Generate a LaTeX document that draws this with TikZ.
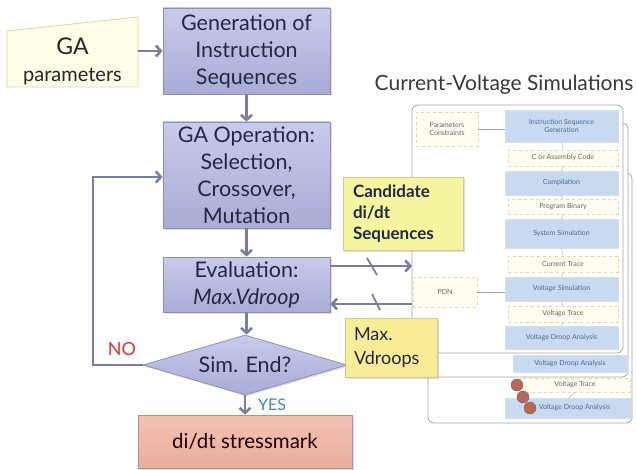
\documentclass[tikz,border=0pt]{standalone}
\usepackage{fontspec}
\setmainfont{Lato}
\usetikzlibrary{arrows.meta,shadows,shapes.geometric}
\definecolor{lavtop}{HTML}{C8CBEB}
\definecolor{lavbot}{HTML}{A8ACD6}
\definecolor{lavborder}{HTML}{8C90B2}
\definecolor{navy}{HTML}{232745}
\definecolor{salmontop}{HTML}{F3C2B4}
\definecolor{salmonbot}{HTML}{EBAD9C}
\definecolor{salmonborder}{HTML}{B89088}
\definecolor{arrowc}{HTML}{7A7E9C}
\definecolor{paramfill}{HTML}{FDFDE8}
\definecolor{paramborder}{HTML}{D9D9A6}
\definecolor{candfill}{HTML}{F5F59F}
\definecolor{maxfill}{HTML}{F8EC95}
\definecolor{yelborder}{HTML}{CFCB95}
\definecolor{noc}{HTML}{D9343A}
\definecolor{yesc}{HTML}{3C88B2}
\definecolor{panelborder}{HTML}{A6A6A6}
\definecolor{pblue}{HTML}{C7DAF0}
\definecolor{pbluetext}{HTML}{4B6896}
\definecolor{pyel}{HTML}{FFFDF0}
\definecolor{pyelborder}{HTML}{E6D7A3}
\definecolor{dotc}{HTML}{B46A5A}
\tikzset{
  lbox/.style={rectangle, draw=lavborder, line width=0.8pt, top color=lavtop, bottom color=lavbot,
    text=navy, font=\fontsize{21.5}{27}\selectfont, align=center, inner sep=0pt,
    drop shadow={opacity=0.25, shadow xshift=1.5pt, shadow yshift=-1.5pt}},
  flow/.style={draw=arrowc, line width=2.6pt, -{Straight Barb[length=5pt,width=11pt]}},
  note/.style={rectangle, draw=yelborder, line width=0.6pt, text=navy, align=left, inner sep=0pt,
    drop shadow={opacity=0.25, shadow xshift=1.5pt, shadow yshift=-1.5pt}},
  panel/.style={draw=panelborder, line width=0.8pt, fill=white, rounded corners=6pt},
  pbox/.style={rectangle, fill=pblue, draw=pblue!80!black!40, line width=0.3pt, text=pbluetext,
    font=\fontsize{7}{8}\selectfont, align=center, inner sep=0pt},
  ybox/.style={rectangle, fill=pyel, draw=pyelborder, dashed, line width=0.4pt, text=black!60,
    font=\fontsize{7}{8}\selectfont, align=center, inner sep=0pt},
  thin/.style={draw=black!35, line width=0.4pt},
  tick/.style={draw=arrowc, line width=1.8pt}
}
\begin{document}
\begin{tikzpicture}[x=1pt,y=-1pt]
\useasboundingbox (0,0) rectangle (636,470);

% ---- right: simulation panels ----
\node[font=\fontsize{21}{24}\selectfont, text=black!78] (title) at (504,85) {Current-Voltage Simulations};

\draw[panel] (428,173) rectangle (632,423);
\draw[panel] (420,123) rectangle (628,377);
\draw[panel] (412,105) rectangle (623,353);

\node[ybox, minimum width=62pt, minimum height=34pt] (params) at (447,129) {Parameters\\Constraints};
\node[pbox, minimum width=113pt, minimum height=32pt] (isg) at (561.5,126) {Instruction Sequence\\Generation};
\node[ybox, minimum width=110pt, minimum height=16pt] (cac) at (563,158) {C or Assembly Code};
\node[pbox, minimum width=113pt, minimum height=24pt] (comp) at (561.5,183) {Compilation};
\node[ybox, minimum width=110pt, minimum height=15pt] (pb) at (563,206.5) {Program Binary};
\node[pbox, minimum width=113pt, minimum height=29pt] (ss) at (561.5,233.5) {System Simulation};
\node[ybox, minimum width=110pt, minimum height=16pt] (ct) at (563,264) {Current Trace};
\node[ybox, minimum width=64pt, minimum height=30pt] (pdn) at (445,292) {PDN};
\node[pbox, minimum width=113pt, minimum height=24pt] (vs) at (561.5,289) {Voltage Simulation};
\node[ybox, minimum width=110pt, minimum height=16pt] (vt) at (563,314) {Voltage Trace};
\node[pbox, minimum width=113pt, minimum height=23pt] (vda) at (561.5,337.5) {Voltage Droop Analysis};
\node[pbox, minimum width=114pt, minimum height=17pt] (vdab) at (570,363.5) {Voltage Droop Analysis};
\node[ybox, minimum width=110pt, minimum height=14pt] (vtc) at (575,385) {Voltage Trace};
\node[pbox, minimum width=127pt, minimum height=20pt] (vdac) at (568.5,408) {\hspace*{12pt}Voltage Droop Analysis};

\draw[thin] (params.east) -- (isg.west |- params.east);
\draw[thin] (pdn.east) -- (vs.west |- pdn.east);
\foreach \a/\b in {isg/cac, cac/comp, comp/pb, pb/ss, ss/ct, ct/vs, vs/vt, vt/vda, vtc/vdac}
  \draw[thin] (\a.south) -- (\b.north);

\foreach \p in {(517,385),(523,397),(530,408)}
  \draw[fill=dotc, draw=dotc!80!black] \p circle (6pt);

% ---- left: GA flow ----
\fill[paramfill, draw=paramborder, line width=0.8pt] (7,31) -- (138,17) -- (138,87) -- (7,87) -- cycle;
\node[minimum width=131pt, minimum height=54pt, inner sep=0pt, text=black!85, align=center,
  font=\fontsize{20}{27}\selectfont] (gap) at (72.5,61)
  {{\fontsize{23}{27}\selectfont GA}\\parameters};

\node[lbox, minimum width=167pt, minimum height=86pt] (gen) at (246.5,51) {Generation of\\Instruction\\Sequences};
\node[lbox, minimum width=167pt, minimum height=106pt] (gaop) at (246.5,175) {GA Operation:\\Selection,\\Crossover,\\Mutation};
\node[lbox, minimum width=167pt, minimum height=55pt] (eval) at (246.5,284.5) {Evaluation:\\\textit{Max.Vdroop}};
\node[lbox, shape=diamond, aspect=3.4, minimum width=204pt, minimum height=60pt] (sim) at (245,365) {Sim. End?};
\node[rectangle, draw=salmonborder, line width=0.8pt, top color=salmontop, bottom color=salmonbot,
  text=black!80!red!60!black, font=\fontsize{20.5}{24}\selectfont, minimum width=214pt, minimum height=53pt,
  drop shadow={opacity=0.25, shadow xshift=1.5pt, shadow yshift=-1.5pt}] (stress) at (245,441.5) {di/dt stressmark};

\node[note, fill=candfill, minimum width=120pt, minimum height=73pt, font=\fontsize{17}{21}\selectfont\bfseries,
  text width=100pt] (cand) at (403,213.5) {Candidate\\di/dt\\Sequences};
\node[note, fill=maxfill, minimum width=92pt, minimum height=59pt, font=\fontsize{18}{24}\selectfont,
  text width=74pt] (maxv) at (391,347.5) {Max.\\Vdroops};

\coordinate (loopc) at (93,177);
\coordinate (p1) at (412,266);
\coordinate (p2) at (412,304);

\draw[flow] (gap.east |- gen.west) -- (gen.west);
\draw[flow] (gen.south) -- (gaop.north);
\draw[flow] (gaop.south) -- (eval.north);
\draw[flow] (eval.south) -- (eval.south |- sim.north);
\draw[flow] (sim.south -| stress.north) -- (stress.north);
\draw[flow] (sim.west) -| (loopc) -- (gaop.west |- loopc);
\draw[flow] (eval.east |- p1) -- (p1);
\draw[flow] (p2) -- (eval.east |- p2);
\draw[tick] (367,258) -- (377,275);
\draw[tick] (372,294) -- (380,310);

\node[text=noc, font=\fontsize{18}{20}\selectfont] (no) at (122,349) {NO};
\node[text=yesc, font=\fontsize{16}{18}\selectfont] (yes) at (272,405) {YES};
\end{tikzpicture}
\end{document}
